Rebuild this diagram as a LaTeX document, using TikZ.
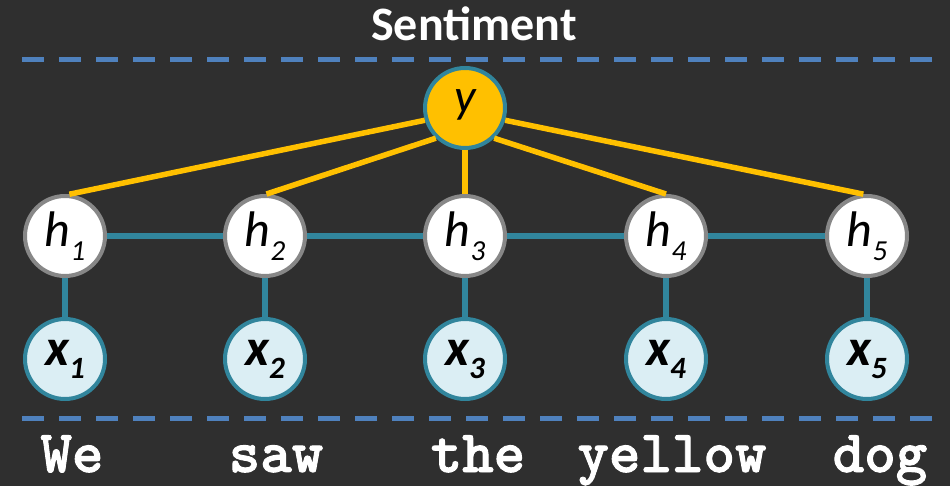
\documentclass[tikz,border=0pt]{standalone}
\usepackage{fontspec}
\setmainfont{Carlito}
\newfontfamily\wordfont{Latin Modern Mono Light}[BoldFeatures={FakeBold=1.5}]
\definecolor{bgc}{HTML}{2F2F2F}
\definecolor{dashblue}{HTML}{4F81BD}
\definecolor{ygold}{HTML}{FFC000}
\definecolor{teal}{HTML}{31859C}
\definecolor{hgray}{HTML}{878787}
\definecolor{xfill}{HTML}{DBEEF4}
\newcommand{\hlab}[1]{\fontsize{50}{50}\selectfont\itshape h\raisebox{-14pt}{\fontsize{29}{29}\selectfont #1}}
\newcommand{\xlab}[1]{\fontsize{52}{52}\selectfont\bfseries\itshape x\raisebox{-13pt}{\fontsize{31}{31}\selectfont #1}}
\tikzset{
  hnode/.style={circle, draw=hgray, line width=4pt, fill=white, minimum size=80pt, inner sep=0pt, text height=32pt, text depth=10pt},
  xnode/.style={circle, draw=teal, line width=4pt, fill=xfill, minimum size=80pt, inner sep=0pt, text height=25pt, text depth=13pt},
  ynode/.style={circle, draw=teal, line width=4pt, fill=ygold, minimum size=80pt, inner sep=0pt, text height=22pt, text depth=12pt, font=\fontsize{48}{48}\selectfont\itshape},
  sepline/.style={draw=dashblue, line width=5pt, dash pattern=on 22pt off 15pt},
  tealline/.style={draw=teal, line width=5.5pt},
  goldline/.style={draw=ygold, line width=5.5pt},
  word/.style={anchor=base, text=white, font=\wordfont\bfseries\fontsize{60}{60}\selectfont, inner sep=0pt},
}
\begin{document}
\begin{tikzpicture}[x=1pt,y=-1pt]
\fill[bgc] (0,0) rectangle (950,486);
\useasboundingbox (0,0) rectangle (950,486);
\node[anchor=base, text=white, font=\fontsize{48}{48}\selectfont\bfseries, inner sep=0pt] (title) at (474,41) {Sentiment};
\coordinate (tl) at (22,60);
\coordinate (tr) at (932,60);
\coordinate (bl) at (22,418);
\coordinate (br) at (932,418);
\draw[sepline] (tl) -- (tr);
\draw[sepline] (bl) -- (br);
\draw[tealline] (65,236) coordinate (c1) -- (867,236) coordinate (c5);
\node[hnode] (h1) at (65,236) {\hlab{1}};
\node[hnode] (h2) at (265,236) {\hlab{2}};
\node[hnode] (h3) at (465,236) {\hlab{3}};
\node[hnode] (h4) at (666,236) {\hlab{4}};
\node[hnode] (h5) at (867,236) {\hlab{5}};
\node[xnode] (x1) at (65,359) {\xlab{1}};
\node[xnode] (x2) at (265,359) {\xlab{2}};
\node[xnode] (x3) at (465,359) {\xlab{3}};
\node[xnode] (x4) at (666,359) {\xlab{4}};
\node[xnode] (x5) at (867,359) {\xlab{5}};
\node[ynode] (y) at (465,108) {y};
\draw[tealline] (h1) -- (x1);
\draw[tealline] (h2) -- (x2);
\draw[tealline] (h3) -- (x3);
\draw[tealline] (h4) -- (x4);
\draw[tealline] (h5) -- (x5);
\draw[goldline] (y.197) -- (h1.84);
\draw[goldline] (y.226) -- (h2.88);
\draw[goldline] (y) -- (h3);
\draw[goldline] (y.314) -- (h4.90);
\draw[goldline] (y.343) -- (h5.95);
\node[word] (w1) at (72,472) {We};
\node[word] (w2) at (276,472) {saw};
\node[word] (w3) at (478,472) {the};
\node[word] (w4) at (672,472) {yellow};
\node[word] (w5) at (880,472) {dog};
\end{tikzpicture}
\end{document}
